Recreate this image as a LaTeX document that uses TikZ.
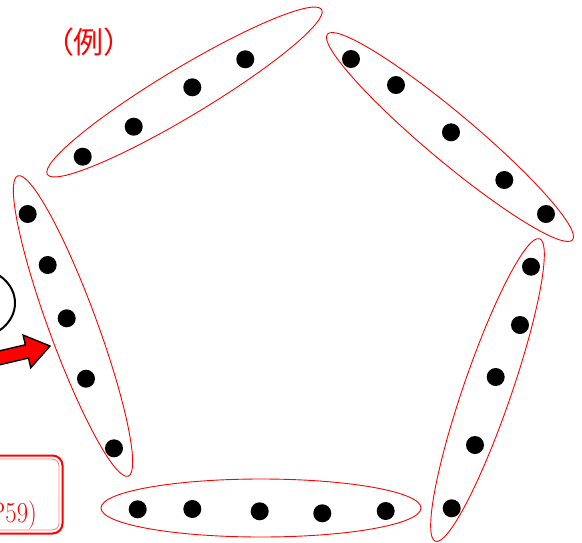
\documentclass[tikz,border=0pt]{standalone}
\usepackage{fontspec}
\newfontfamily\cjkfont{Noto Sans CJK JP}
\usetikzlibrary{shapes.geometric}

\begin{document}
\begin{tikzpicture}[x=1pt,y=-1pt,
  dot/.style={circle,fill=black,inner sep=0pt,minimum size=18pt},
  group/.style={ellipse,draw=red,line width=0.9pt,inner sep=0pt,minimum width=320pt,minimum height=48pt}]
\useasboundingbox (0,0) rectangle (582,542);
% title
\node[text=red,font=\cjkfont\fontsize{30}{32}\selectfont] (title) at (89,42) {（例）};
% five groups as ellipses
\node[group,rotate=31] (gtl) at (184.5,92) {};
\node[group,rotate=-40] (gtr) at (450,137) {};
\node[group,rotate=71] (gr) at (487.5,390) {};
\node[group,minimum height=58pt] (gb) at (261,508) {};
\node[group,rotate=-69.8] (gl) at (73,326) {};
% dots in each group
\foreach \p [count=\i] in {(82.7,156.7),(133.7,126.7),(192.3,87.3),(245.3,59.3)}
  \node[dot] (tl\i) at \p {};
\foreach \p [count=\i] in {(351,59),(396,85),(451,132.3),(504.3,180),(546,214)}
  \node[dot] (tr\i) at \p {};
\foreach \p [count=\i] in {(531,266.7),(520,325),(495.7,377),(475,445),(451.7,508.3)}
  \node[dot] (r\i) at \p {};
\foreach \p [count=\i] in {(137.7,509.3),(192.3,509),(259.7,511.3),(322.3,513.3),(385.7,511)}
  \node[dot] (b\i) at \p {};
\foreach \p [count=\i] in {(27.7,214),(47.7,265),(66.7,318.3),(86,378.7),(114,448.3)}
  \node[dot] (l\i) at \p {};
% cut-off ellipse on the left
\draw[line width=2pt] (-25,303) ellipse [x radius=40, y radius=34.6];
% red block arrow
\coordinate (tip) at (50,346);
\begin{scope}[shift={(tip)},rotate=13.2]
\draw[fill=red,line width=1.4pt,line join=miter]
  (0,0) -- (-23.7,16.8) -- (-23.7,6.8) -- (-80,6.8) -- (-80,-6.8) -- (-23.7,-6.8) -- (-23.7,-16.8) -- cycle;
\end{scope}
% reference box
\draw[red,line width=2pt,rounded corners=10pt] (-30,455.5) rectangle (62.5,533.5);
\draw[red!50,line width=0.8pt,rounded corners=7pt] (-30,459) rectangle (59,530);
\node[text=red,font=\fontsize{29}{31}\selectfont,anchor=base east,xscale=0.85,inner sep=0pt] (ref) at (37,522) {(P59)};
\end{tikzpicture}
\end{document}
